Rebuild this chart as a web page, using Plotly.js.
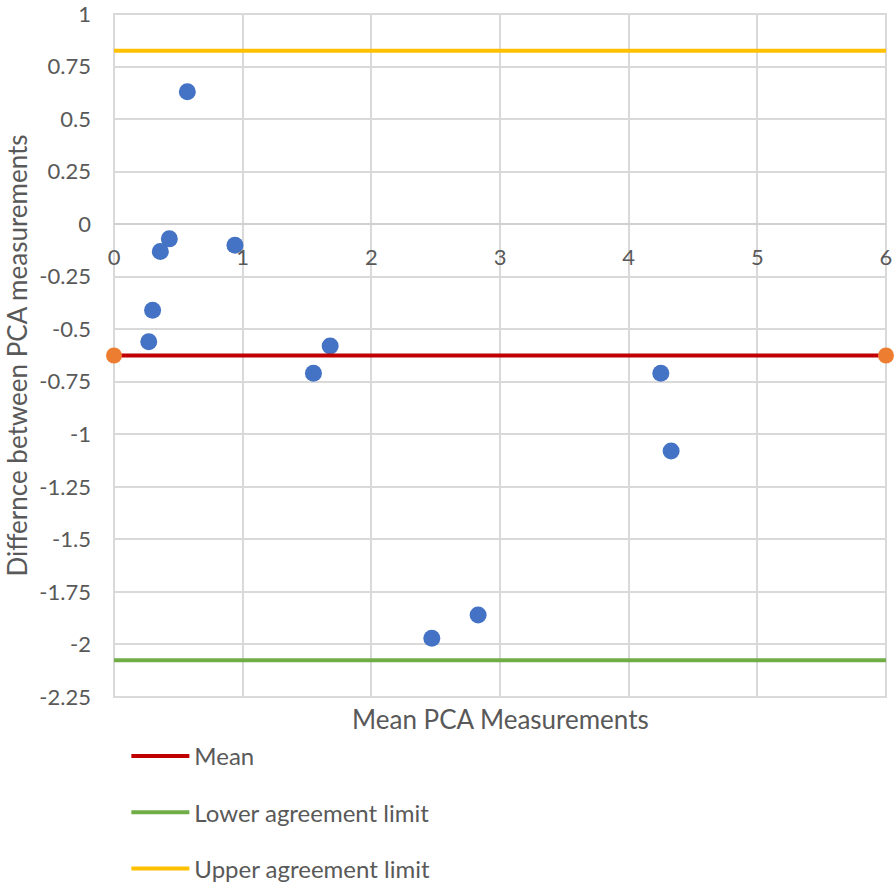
<!DOCTYPE html>
<html><head><meta charset="utf-8">
<script src="https://cdn.plot.ly/plotly-3.0.1.min.js"></script>
<style>html,body{margin:0;padding:0;background:#fff}#chart{width:895px;height:883px}</style>
</head><body><div id="chart"></div>
<script>
const meanX = [0.57, 0.43, 0.36, 0.94, 0.30, 0.27, 1.55, 1.68, 4.25, 4.33, 2.47, 2.83];
const diffY = [0.63, -0.07, -0.13, -0.10, -0.41, -0.56, -0.71, -0.58, -0.71, -1.08, -1.97, -1.86];
const lineX = [0, 6];
const meanDiff = -0.625;
const lowerLimit = -2.075;
const upperLimit = 0.825;
const xTicks = [0, 1, 2, 3, 4, 5, 6];
const yTicks = [1, 0.75, 0.5, 0.25, 0, -0.25, -0.5, -0.75, -1, -1.25, -1.5, -1.75, -2, -2.25];

const font = "Lato, 'Open Sans', sans-serif";
const txt = '#595959';

const traces = [
  {x: meanX, y: diffY, mode: 'markers', type: 'scatter', showlegend: false,
   marker: {color: '#4472C4', size: 17}},
  {x: lineX, y: [meanDiff, meanDiff], mode: 'lines', name: 'Mean', legendgroup: 'a',
   line: {color: '#C00000', width: 4}},
  {x: lineX, y: [lowerLimit, lowerLimit], mode: 'lines', name: 'Lower agreement limit', legendgroup: 'b',
   line: {color: '#70AD47', width: 4}},
  {x: lineX, y: [upperLimit, upperLimit], mode: 'lines', name: 'Upper agreement limit', legendgroup: 'c',
   line: {color: '#FFC000', width: 4}},
  {x: lineX, y: [meanDiff, meanDiff], mode: 'markers', showlegend: false,
   marker: {color: '#ED7D31', size: 16}, cliponaxis: false}
];

const layout = {
  width: 895, height: 883,
  margin: {l: 114, r: 9, t: 14, b: 186, autoexpand: false},
  paper_bgcolor: '#fff', plot_bgcolor: '#fff',
  font: {family: font, color: txt, size: 22},
  showlegend: true,
  legend: {orientation: 'v', x: 0.016, xanchor: 'left', y: -0.054, yanchor: 'top',
           font: {size: 24, color: txt}, tracegroupgap: 22, traceorder: 'grouped',
           itemwidth: 58},
  xaxis: {range: [-0.0001, 6.0001], tickvals: xTicks, ticktext: xTicks.map(String),
          anchor: 'free', position: 2.25 / 3.25,
          showgrid: true, gridcolor: '#D9D9D9', gridwidth: 2,
          showline: false, zeroline: false, ticks: '', ticklabelstandoff: 18,
          ticklabeloverflow: 'allow',
          tickfont: {size: 22, color: txt}, fixedrange: true},
  yaxis: {range: [-2.2501, 1.0001], tickvals: yTicks, ticktext: yTicks.map(String),
          showgrid: true, gridcolor: '#D9D9D9', gridwidth: 2,
          zeroline: true, zerolinecolor: '#D0D0D0', zerolinewidth: 2,
          showline: false, ticks: '', ticklabelstandoff: 22,
          ticklabeloverflow: 'allow',
          tickfont: {size: 22, color: txt},
          title: {text: 'Differnce between PCA measurements', font: {size: 26, color: txt}, standoff: 4}},
  shapes: [
    {type: 'rect', xref: 'paper', yref: 'paper', x0: 0, x1: 1, y0: 0, y1: 1,
     line: {color: '#D9D9D9', width: 2}, layer: 'below'}
  ],
  annotations: [
    {text: 'Mean PCA Measurements', xref: 'paper', yref: 'paper', x: 0.5, y: -0.032,
     xanchor: 'center', yanchor: 'middle', showarrow: false, font: {size: 26, color: txt}}
  ]
};
Plotly.newPlot('chart', traces, layout, {displayModeBar: false, staticPlot: true});
</script></body></html>
